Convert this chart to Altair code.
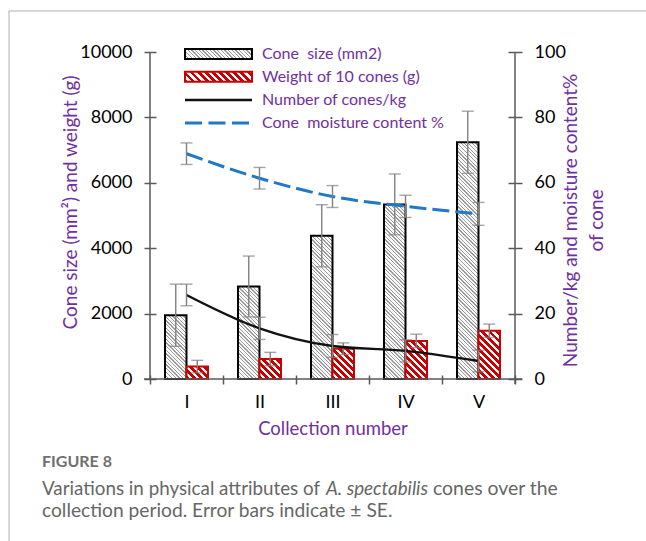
import math
import altair as alt
import pandas as pd

# ---------------- data ----------------
cats = ['I', 'II', 'III', 'IV', 'V']
cone_size = [1950, 2830, 4380, 5340, 7240]
cone_size_se = [950, 930, 950, 930, 950]
cone_weight = [380, 610, 925, 1165, 1475]
cone_weight_se = [190, 205, 180, 205, 205]
cones_per_kg = [25.7, 15.5, 10.1, 8.6, 5.5]
cones_per_kg_se = [3.3, 3.4, 3.5, 3.4, 3.3]
moisture = [68.9, 61.4, 55.8, 52.8, 50.5]
moisture_se = [3.3, 3.3, 3.35, 3.4, 3.5]
left_ticks = [0, 2000, 4000, 6000, 8000, 10000]
right_ticks = [0, 20, 40, 60, 80, 100]
legend_labels = ['Cone\u00a0 size (mm2)', 'Weight of 10 cones (g)',
                 'Number of cones/kg', 'Cone\u00a0 moisture content %']
left_title = 'Cone size (mm\u00b2) and weight (g)'
right_title = ['Number/kg and moisture content%', 'of cone']
x_title = 'Collection number'
caption_head = 'FIGURE 8'
caption_line1 = ['Variations in physical attributes of', 'A. spectabilis', 'cones over the']
caption_line2 = 'collection period. Error bars indicate \u00b1 SE.'

# ---------------- layout / style ----------------
W, H = 365, 327
PAD = {'left': 150, 'top': 52, 'right': 131, 'bottom': 162}
LMAX, RMAX = 10000, 100
BAR_W = 21.5
PURPLE = '#7030A0'
AXC = '#595959'
ERR = '#808080'
RED = '#C80000'
BLUE = '#1F78C8'
FONT = 'Lato'
CAPFONT = 'Lato'


def hatch(w, h, period, frac, c_line, c_bg):
    """diagonal '\\' stripes as a hard-stop linear gradient (bbox units)"""
    r = h / w
    c = (1 + r) / (1 + r * r)
    n = (w + h) / (period * math.sqrt(2))
    dt = 1.0 / n
    stops = []
    t = 0.0
    while t < 1 - 1e-9:
        t1 = min(t + dt * frac, 1.0)
        t2 = min(t + dt, 1.0)
        stops += [alt.GradientStop(color=c_line, offset=round(t, 4)),
                  alt.GradientStop(color=c_line, offset=round(t1, 4)),
                  alt.GradientStop(color=c_bg, offset=round(t1, 4)),
                  alt.GradientStop(color=c_bg, offset=round(t2, 4))]
        t += dt
    return alt.LinearGradient(gradient='linear', stops=stops,
                              x1=0, y1=1, x2=round(c, 5), y2=round(1 - c * r, 5))


GRAY_HATCH = dict(period=2.6, frac=0.36, c_line='#999999', c_bg='#fafafa')
RED_HATCH = dict(period=5.0, frac=0.5, c_line=RED, c_bg='#ffffff')

# ---------------- data frames ----------------
bars = pd.DataFrame({
    'cat': cats * 2,
    's': ['size'] * 5 + ['weight'] * 5,
    'v': cone_size + cone_weight,
    'lo': [v - e for v, e in zip(cone_size, cone_size_se)] + [v - e for v, e in zip(cone_weight, cone_weight_se)],
    'hi': [v + e for v, e in zip(cone_size, cone_size_se)] + [v + e for v, e in zip(cone_weight, cone_weight_se)],
})
lines = pd.DataFrame({
    'cat': cats * 2,
    'series': ['n'] * 5 + ['m'] * 5,
    'v': cones_per_kg + moisture,
    'lo': [v - e for v, e in zip(cones_per_kg, cones_per_kg_se)] + [v - e for v, e in zip(moisture, moisture_se)],
    'hi': [v + e for v, e in zip(cones_per_kg, cones_per_kg_se)] + [v + e for v, e in zip(moisture, moisture_se)],
})
leg = pd.DataFrame({'label': legend_labels})
one = pd.DataFrame({'a': [0]})

# ---------------- encodings ----------------
X = alt.X('cat:N', sort=cats,
          scale=alt.Scale(domain=cats, paddingInner=0, paddingOuter=0),
          axis=alt.Axis(title=x_title, labelAngle=0, tickBand='extent', domain=False,
                        tickSize=9, offset=-4, tickColor=AXC, tickWidth=1.5,
                        labelFont=FONT, labelFontSize=18, labelColor='black', labelPadding=9,
                        titleFont=FONT, titleFontSize=18.5, titleColor=PURPLE,
                        titleFontWeight='normal', titlePadding=8))
XO = alt.XOffset('s:N', scale=alt.Scale(domain=['size', 'weight'], paddingInner=0,
                                        paddingOuter=(W / 5 / BAR_W - 2) / 2))
LAX = alt.Axis(title=left_title, values=left_ticks, format='d', domain=False, offset=-6, tickSize=12,
               tickColor=AXC, tickWidth=1.5, labelFont=FONT, labelFontSize=18,
               labelColor='black', labelPadding=12, grid=False,
               titleFont=FONT, titleFontSize=19, titleColor=PURPLE,
               titleFontWeight='normal', titlePadding=-1, titleY=150)
LSC = alt.Scale(domain=[0, LMAX], nice=False)
RAX = alt.Axis(title=right_title, orient='right', values=right_ticks, format='d', domain=False, offset=-7,
               tickSize=14, tickColor=AXC, tickWidth=1.5, labelFont=FONT, labelFontSize=18,
               labelColor='black', labelPadding=12, grid=False, titleAngle=270,
               titleFont=FONT, titleFontSize=19, titleColor=PURPLE,
               titleFontWeight='normal', titlePadding=-11, titleLineHeight=26, titleY=168)
RSC = alt.Scale(domain=[0, RMAX], nice=False)

# ---------------- left group: bars ----------------
left_layers = []
for s, vals, style, stroke in [('size', cone_size, GRAY_HATCH, 'black'),
                               ('weight', cone_weight, RED_HATCH, RED)]:
    for c, v in zip(cats, vals):
        h = v / LMAX * H
        left_layers.append(
            alt.Chart(bars).transform_filter((alt.datum.s == s) & (alt.datum.cat == c))
            .mark_bar(fill=hatch(BAR_W, h, **style), stroke=stroke, strokeWidth=2)
            .encode(x=X, xOffset=XO, y=alt.Y('v:Q', scale=LSC, axis=LAX))
        )
left_layers.append(
    alt.Chart(bars).mark_rule(color=ERR, strokeWidth=1.4)
    .encode(x=X, xOffset=XO, y=alt.Y('lo:Q', scale=LSC, axis=LAX), y2='hi:Q'))
for f in ['lo', 'hi']:
    left_layers.append(
        alt.Chart(bars).mark_tick(color=ERR, thickness=1.4, size=12)
        .encode(x=X, xOffset=XO, y=alt.Y(f + ':Q', scale=LSC, axis=LAX)))
left = alt.layer(*left_layers)

# ---------------- right group: lines ----------------
right_layers = [
    alt.Chart(lines).transform_filter(alt.datum.series == 'n')
    .mark_line(color='#111111', strokeWidth=2.4, interpolate='monotone')
    .encode(x=X, y=alt.Y('v:Q', scale=RSC, axis=RAX)),
    alt.Chart(lines).transform_filter(alt.datum.series == 'm')
    .mark_line(color=BLUE, strokeWidth=3, strokeDash=[17, 6], interpolate='monotone')
    .encode(x=X, y=alt.Y('v:Q', scale=RSC, axis=RAX)),
    alt.Chart(lines).mark_rule(color=ERR, strokeWidth=1.4)
    .encode(x=X, y=alt.Y('lo:Q', scale=RSC, axis=RAX), y2='hi:Q'),
]
for f in ['lo', 'hi']:
    right_layers.append(
        alt.Chart(lines).mark_tick(color=ERR, thickness=1.4, size=12)
        .encode(x=X, y=alt.Y(f + ':Q', scale=RSC, axis=RAX)))
right = alt.layer(*right_layers)

# ---------------- axis lines and frame ----------------
base = alt.Chart(one)
deco = [
    base.mark_rule(color=AXC, strokeWidth=1.5).encode(x=alt.value(0), y=alt.value(0), y2=alt.value(H)),
    base.mark_rule(color=AXC, strokeWidth=1.5).encode(x=alt.value(W), y=alt.value(0), y2=alt.value(H + 5)),
    base.mark_rule(color=AXC, strokeWidth=1.5).encode(x=alt.value(-6), x2=alt.value(W + 7), y=alt.value(H)),
    base.mark_rule(color='#b0b0b0', strokeWidth=1).encode(x=alt.value(-141), x2=alt.value(W + PAD['right']), y=alt.value(-41)),
    base.mark_rule(color='#b0b0b0', strokeWidth=1).encode(x=alt.value(-141), y=alt.value(-41), y2=alt.value(H + PAD['bottom'])),
]

# ---------------- legend ----------------
LX0, LX1, LTX = 35, 102, 112
rows = [2, 24.7, 48, 71]
legend = [
    alt.Chart(leg).transform_filter(alt.datum.label == legend_labels[0])
    .mark_rect(fill=hatch(LX1 - LX0, 10, **GRAY_HATCH), stroke='black', strokeWidth=2)
    .encode(x=alt.value(LX0), x2=alt.value(LX1), y=alt.value(rows[0] - 5), y2=alt.value(rows[0] + 5)),
    alt.Chart(leg).transform_filter(alt.datum.label == legend_labels[1])
    .mark_rect(fill=hatch(LX1 - LX0, 10, **RED_HATCH), stroke=RED, strokeWidth=2)
    .encode(x=alt.value(LX0), x2=alt.value(LX1), y=alt.value(rows[1] - 5), y2=alt.value(rows[1] + 5)),
    alt.Chart(leg).transform_filter(alt.datum.label == legend_labels[2])
    .mark_rule(color='#111111', strokeWidth=2.4)
    .encode(x=alt.value(LX0), x2=alt.value(LX1), y=alt.value(rows[2])),
    alt.Chart(leg).transform_filter(alt.datum.label == legend_labels[3])
    .mark_rule(color=BLUE, strokeWidth=3, strokeDash=[17, 6.5])
    .encode(x=alt.value(LX0), x2=alt.value(LX1), y=alt.value(rows[3])),
]
for lab, ry in zip(legend_labels, rows):
    legend.append(
        alt.Chart(leg).transform_filter(alt.datum.label == lab)
        .mark_text(align='left', baseline='middle', font=FONT, fontSize=16, color=PURPLE)
        .encode(text='label:N', x=alt.value(LTX), y=alt.value(ry)))

# ---------------- caption ----------------
cap = pd.DataFrame({'t': [caption_head, caption_line2] + caption_line1})
CX = -108


def captext(t, x, y, size, color, style='normal', weight='normal'):
    return (alt.Chart(cap).transform_filter(alt.datum.t == t)
            .mark_text(align='left', baseline='middle', font=CAPFONT, fontSize=size,
                       color=color, fontStyle=style, fontWeight=weight)
            .encode(text='t:N', x=alt.value(x), y=alt.value(y)))


CS = 18.8
caption = [
    captext(caption_head, CX, 410, 16, '#707070', weight='bold'),
    captext(caption_line1[0], CX, 437, CS, '#666666'),
    captext(caption_line1[1], CX + 284, 437, CS, '#666666', style='italic'),
    captext(caption_line1[2], CX + 391, 437, 19.4, '#666666'),
    captext(caption_line2, CX, 459, 19.2, '#666666'),
]

chart = (
    alt.layer(left, right, *deco, *legend, *caption)
    .resolve_scale(y='independent')
    .properties(width=W, height=H, padding=PAD, autosize=alt.AutoSizeParams(type='none'),
                background='white')
    .configure_view(stroke=None)
)

chart.save('out.html', embed_options={'renderer': 'svg', 'actions': False})
